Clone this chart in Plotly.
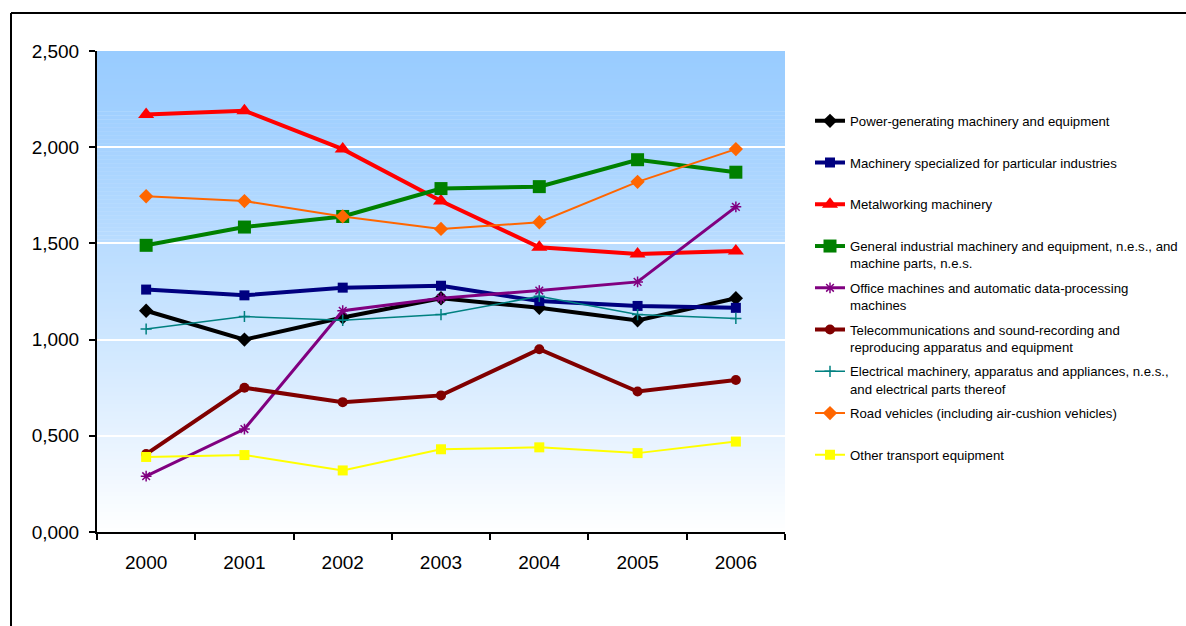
import plotly.graph_objects as go

# ---- data -------------------------------------------------------------
years = ["2000", "2001", "2002", "2003", "2004", "2005", "2006"]

power_generating = [1.150, 1.000, 1.115, 1.215, 1.165, 1.100, 1.215]
specialized = [1.260, 1.230, 1.270, 1.280, 1.200, 1.175, 1.165]
metalworking = [2.170, 2.190, 1.990, 1.720, 1.480, 1.445, 1.460]
general_industrial = [1.490, 1.585, 1.640, 1.785, 1.795, 1.935, 1.870]
office_machines = [0.290, 0.535, 1.150, 1.215, 1.255, 1.300, 1.690]
telecom = [0.405, 0.750, 0.675, 0.710, 0.950, 0.730, 0.790]
electrical = [1.055, 1.120, 1.100, 1.130, 1.225, 1.130, 1.110]
road_vehicles = [1.745, 1.720, 1.640, 1.575, 1.610, 1.820, 1.990]
other_transport = [0.390, 0.400, 0.320, 0.430, 0.440, 0.410, 0.470]

series_names = [
    "Power-generating machinery and equipment",
    "Machinery specialized for particular industries",
    "Metalworking machinery",
    "General industrial machinery and equipment, n.e.s., and<br>machine parts, n.e.s.",
    "Office machines and automatic data-processing<br>machines",
    "Telecommunications and sound-recording and<br>reproducing apparatus and equipment",
    "Electrical machinery, apparatus and appliances, n.e.s.,<br>and electrical parts thereof",
    "Road vehicles (including air-cushion vehicles)",
    "Other transport equipment",
]
series_values = [power_generating, specialized, metalworking, general_industrial,
                 office_machines, telecom, electrical, road_vehicles, other_transport]

y_tickvals = [0, 0.5, 1.0, 1.5, 2.0, 2.5]
y_ticktext = ["0,000", "0,500", "1,000", "1,500", "2,000", "2,500"]

# ---- styles -----------------------------------------------------------
styles = [
    dict(color="#000000", width=4, symbol="diamond", size=11),
    dict(color="#000080", width=4, symbol="square", size=10),
    dict(color="#FF0000", width=4, symbol="triangle-up", size=14),
    dict(color="#008000", width=4, symbol="square", size=13),
    dict(color="#800080", width=3, symbol="asterisk-open", size=9),
    dict(color="#800000", width=4, symbol="circle", size=10),
    dict(color="#008080", width=1.5, symbol="cross-thin-open", size=8),
    dict(color="#FF6600", width=2, symbol="diamond", size=11),
    dict(color="#FFFF00", width=2, symbol="square", size=10),
]

W, H = 1186, 626
L, R, T, B = 97, 785, 51, 532  # plot area in pixels


def px_x(px):
    return (px - L) / (R - L)


def px_y(py):
    return (B - py) / (B - T)


fig = go.Figure()
for i, (name, vals, st) in enumerate(zip(series_names, series_values, styles)):
    mline = dict(color=st["color"], width=1.5) if "open" in st["symbol"] else dict(width=0)
    fig.add_trace(go.Scatter(
        x=years, y=vals, name=name, mode="lines+markers",
        line=dict(color=st["color"], width=st["width"]),
        marker=dict(symbol=st["symbol"], size=st["size"], color=st["color"], line=mline),
        legend="legend" if i == 0 else f"legend{i + 1}",
        cliponaxis=False,
    ))

# one legend box per series so each entry sits on a fixed row
legend_font = dict(family="Liberation Sans, Arial, sans-serif", size=13.2, color="#000000")
first_row, row_step = 122, 41.75
legends = {}
for i in range(len(series_names)):
    key = "legend" if i == 0 else f"legend{i + 1}"
    legends[key] = dict(
        x=px_x(810), y=px_y(first_row + i * row_step - 16.3),
        xanchor="left", yanchor="top",
        bgcolor="rgba(0,0,0,0)", borderwidth=0,
        font=legend_font, valign="top", itemclick=False,
    )

# vertical blue-to-white background
shapes = []
n_strips = 120
top_rgb, bot_rgb = (153, 204, 255), (255, 255, 255)
for k in range(n_strips):
    t = (k + 0.5) / n_strips
    w = t ** 1.25
    c = tuple(round(a + (b - a) * w) for a, b in zip(top_rgb, bot_rgb))
    shapes.append(dict(
        type="rect", xref="x domain", yref="y domain", layer="below",
        x0=0, x1=1, y0=1 - (k + 1) / n_strips - 0.001, y1=1 - k / n_strips,
        fillcolor=f"rgb{c}", line=dict(width=0),
    ))

# chart frame (top and left edges)
shapes.append(dict(type="line", xref="paper", yref="paper", layer="above",
                   x0=px_x(11), x1=px_x(W + 5), y0=px_y(13), y1=px_y(13),
                   line=dict(color="#000000", width=2)))
shapes.append(dict(type="line", xref="paper", yref="paper", layer="above",
                   x0=px_x(11), x1=px_x(11), y0=px_y(13), y1=px_y(H + 5),
                   line=dict(color="#000000", width=2)))

tick_font = dict(family="Liberation Sans, Arial, sans-serif", size=19, color="#000000")

fig.update_layout(
    width=W, height=H,
    margin=dict(l=L, r=W - R, t=T, b=H - B, pad=0, autoexpand=False),
    paper_bgcolor="#FFFFFF",
    plot_bgcolor="rgba(0,0,0,0)",
    showlegend=True,
    shapes=shapes,
    **legends,
    xaxis=dict(
        type="category", range=[-0.5, 6.5], tickson="boundaries",
        showline=True, linecolor="#000000", linewidth=2,
        ticks="outside", ticklen=6, tickwidth=2, tickcolor="#000000",
        showgrid=False, zeroline=False, tickfont=tick_font,
        ticklabelstandoff=12, fixedrange=True,
    ),
    yaxis=dict(
        range=[0, 2.5], tickvals=y_tickvals, ticktext=y_ticktext,
        showline=True, linecolor="#000000", linewidth=2,
        ticks="outside", ticklen=6, tickwidth=2, tickcolor="#000000",
        showgrid=True, gridcolor="#FFFFFF", gridwidth=2,
        zeroline=False, tickfont=tick_font, ticklabelstandoff=6, fixedrange=True,
    ),
)

fig.write_html("out.html", config=dict(displayModeBar=False))
